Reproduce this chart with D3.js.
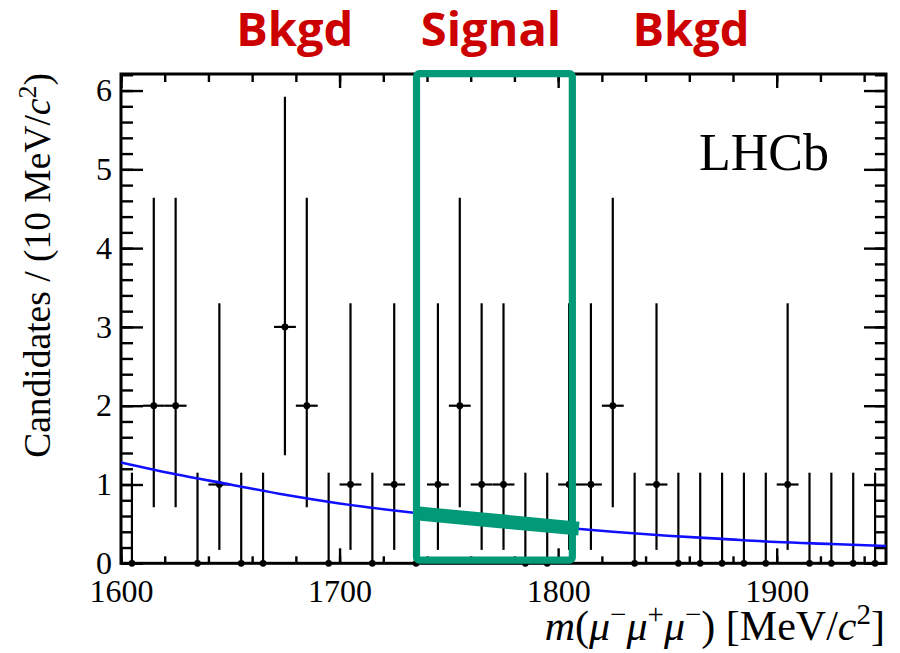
<!DOCTYPE html>
<html>
<head>
<meta charset="utf-8">
<script src="https://cdn.jsdelivr.net/npm/d3@7"></script>
<style>
  html, body { margin: 0; padding: 0; background: #fff; }
  svg { display: block; }
</style>
</head>
<body>
<div id="chart"></div>
<script>
// bin centres (10 MeV bins) and observed candidates
const binCenters = [1605, 1615, 1625, 1635, 1645, 1655, 1665, 1675, 1685, 1695,
                    1705, 1715, 1725, 1735, 1745, 1755, 1765, 1775, 1785, 1795,
                    1805, 1815, 1825, 1835, 1845, 1855, 1865, 1875, 1885, 1895,
                    1905, 1915, 1925, 1935, 1945];
const counts = [0, 2, 2, 0, 1, 0, 0, 3, 2, 0,
                1, 0, 1, 0, 1, 2, 1, 1, 0, 0,
                1, 1, 2, 0, 1, 0, 0, 0, 0, 0,
                1, 0, 0, 0, 0];
// Poisson error sizes by count (lower, upper)
const errLow = [0, 0.83, 1.29, 1.63];
const errHigh = [1.15, 2.30, 2.64, 2.92];

// background fit curve
const fitMass = [1600, 1625, 1650, 1675, 1700, 1725, 1750, 1775, 1800, 1825, 1850, 1875, 1900, 1925, 1950];
const fitValue = [1.28, 1.13, 1.00, 0.87, 0.76, 0.67, 0.59, 0.52, 0.46, 0.40, 0.35, 0.31, 0.27, 0.245, 0.22];

// expected background inside the signal window
const sigBandMass = [1735, 1809.5];
const sigBandValue = [0.635, 0.44];
const signalWindow = [1735.2, 1806.5];

const xMajor = [1600, 1700, 1800, 1900];
const yMajor = [0, 1, 2, 3, 4, 5, 6];
const regionLabels = ['Bkgd', 'Signal', 'Bkgd'];
const regionLabelX = [294.7, 491, 691];

const W = 900, H = 653;
const mLeft = 121, mRight = 886, mTop = 74, mBottom = 563.3;
const serif = '"Liberation Serif", "Times New Roman", serif';
const green = '#009a78';

const svg = d3.select('#chart').append('svg')
    .attr('width', W)
    .attr('height', H);

const x = d3.scaleLinear().domain([1600, 1950]).range([mLeft, mRight]);
const y = d3.scaleLinear().domain([0, 6.21]).range([mBottom, mTop]);

const xMinor = d3.range(1600, 1951, 20);
const yMinor = d3.range(0, 6.21, 0.2);

// axes, ticks point inward
function axisGroup(axis, tx, ty) {
    const g = svg.append('g').attr('transform', `translate(${tx},${ty})`).call(axis);
    g.attr('font-family', null).attr('font-size', null);
    g.select('.domain').remove();
    g.selectAll('.tick line').attr('stroke', '#000').attr('stroke-width', 2.4);
    g.selectAll('text')
        .style('font-family', serif).style('font-size', '32px').attr('fill', '#000');
    return g;
}
axisGroup(d3.axisBottom(x).tickValues(xMajor).tickSize(-15).tickPadding(16).tickFormat(d3.format('d')), 0, mBottom);
axisGroup(d3.axisBottom(x).tickValues(xMinor).tickSize(-7).tickFormat(''), 0, mBottom);
axisGroup(d3.axisTop(x).tickValues(xMajor).tickSize(-14).tickFormat(''), 0, mTop);
axisGroup(d3.axisTop(x).tickValues(xMinor).tickSize(-8).tickFormat(''), 0, mTop);
axisGroup(d3.axisLeft(y).tickValues(yMajor).tickSize(-22).tickPadding(9).tickFormat(d3.format('d')), mLeft, 0);
axisGroup(d3.axisLeft(y).tickValues(yMinor).tickSize(-12).tickFormat(''), mLeft, 0);
axisGroup(d3.axisRight(y).tickValues(yMajor).tickSize(-22).tickFormat(''), mRight, 0);
axisGroup(d3.axisRight(y).tickValues(yMinor).tickSize(-11).tickFormat(''), mRight, 0);

// data points with error bars
const pts = binCenters.map((m, i) => ({ m: m, n: counts[i] }));
const dataG = svg.append('g').attr('stroke', '#000').attr('stroke-width', 2.2);
dataG.selectAll('line.ey').data(pts).enter().append('line')
    .attr('x1', d => x(d.m)).attr('x2', d => x(d.m))
    .attr('y1', d => y(d.n - errLow[d.n])).attr('y2', d => y(d.n + errHigh[d.n]));
dataG.selectAll('line.ex').data(pts.filter(d => d.n > 0)).enter().append('line')
    .attr('x1', d => x(d.m - 5)).attr('x2', d => x(d.m + 5))
    .attr('y1', d => y(d.n)).attr('y2', d => y(d.n));
svg.append('g').selectAll('circle').data(pts).enter().append('circle')
    .attr('cx', d => x(d.m)).attr('cy', d => y(d.n)).attr('r', 3.4).attr('fill', '#000');

// frame
svg.append('rect')
    .attr('x', mLeft).attr('y', mTop)
    .attr('width', mRight - mLeft).attr('height', mBottom - mTop)
    .attr('fill', 'none').attr('stroke', '#000').attr('stroke-width', 3);

// fit curve
const line = d3.line().x(d => x(d[0])).y(d => y(d[1])).curve(d3.curveMonotoneX);
svg.append('path')
    .datum(fitMass.map((m, i) => [m, fitValue[i]]))
    .attr('d', line)
    .attr('fill', 'none').attr('stroke', '#1010ff').attr('stroke-width', 2.6);

// signal band and window
svg.append('path')
    .datum(sigBandMass.map((m, i) => [m, sigBandValue[i]]))
    .attr('d', d3.line().x(d => x(d[0])).y(d => y(d[1])))
    .attr('fill', 'none').attr('stroke', green).attr('stroke-width', 14);
svg.append('rect')
    .attr('x', x(signalWindow[0])).attr('y', y(6.21) - 0.3)
    .attr('width', x(signalWindow[1]) - x(signalWindow[0]))
    .attr('height', y(0.04) - y(6.21) + 0.3)
    .attr('rx', 3).attr('ry', 3)
    .attr('fill', 'none').attr('stroke', green).attr('stroke-width', 7.2);

// region labels
svg.append('g').selectAll('text').data(regionLabels).enter().append('text')
    .attr('x', (d, i) => regionLabelX[i]).attr('y', 45.7)
    .attr('text-anchor', 'middle')
    .attr('font-family', '"Open Sans", sans-serif').attr('font-weight', 700)
    .attr('font-size', 47).attr('fill', '#cc0000')
    .text(d => d);

// LHCb
svg.append('text')
    .attr('x', 829).attr('y', 170).attr('text-anchor', 'end')
    .attr('font-family', serif).attr('font-size', 52)
    .text('LHCb');

// y title
const yt = svg.append('text')
    .attr('transform', 'translate(50,73) rotate(-90)')
    .attr('text-anchor', 'end')
    .attr('font-family', serif).attr('font-size', 37.5);
yt.append('tspan').text('Candidates / (10 MeV/');
yt.append('tspan').attr('font-style', 'italic').text('c');
yt.append('tspan').attr('font-size', 26).attr('dy', -14).text('2');
yt.append('tspan').attr('dy', 14).text(')');

// x title
const xt = svg.append('text')
    .attr('x', 885).attr('y', 640).attr('text-anchor', 'end')
    .attr('font-family', serif).attr('font-size', 42);
function part(t, italic, sup) {
    const s = xt.append('tspan').text(t);
    if (italic) s.attr('font-style', 'italic');
    if (sup) s.attr('font-size', 29).attr('dy', sup);
    return s;
}
part('m', true);
part('(');
part('μ', true);
part('−', false, -16);
part('μ', true).attr('dy', 16);
part('+', false, -16);
part('μ', true).attr('dy', 16);
part('−', false, -16);
part(')').attr('dy', 16);
part(' [MeV/');
part('c', true);
part('2', false, -16);
part(']').attr('dy', 16);
</script>
</body>
</html>
